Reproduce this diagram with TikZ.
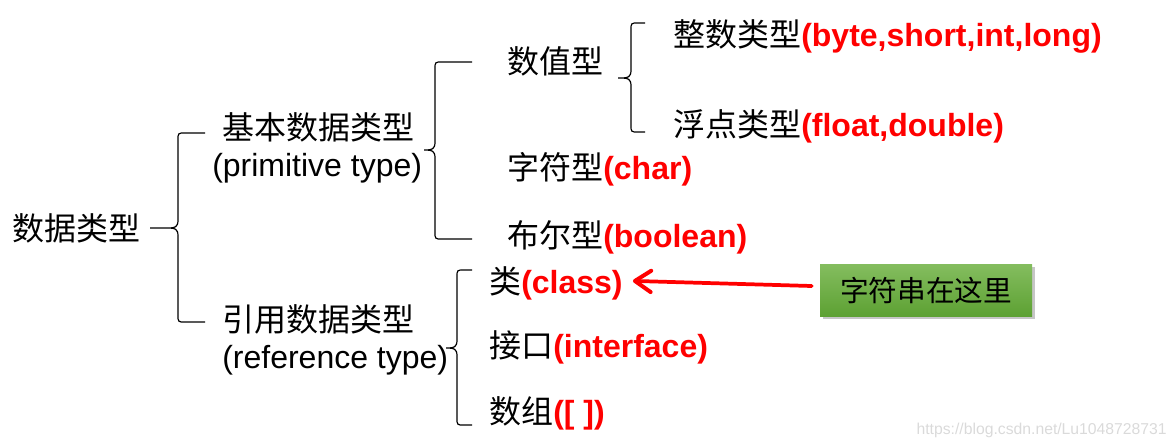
\documentclass[tikz,border=0pt]{standalone}
\usepackage{fontspec}
\setmainfont{Liberation Sans}
\newfontfamily\cjk{Noto Sans CJK SC}
\usetikzlibrary{arrows.meta,shadows}
\definecolor{boxtop}{HTML}{84BD5F}
\definecolor{boxbot}{HTML}{5DA133}
\definecolor{wmgray}{HTML}{DADADA}
\newcommand\zhtxt[1]{{\cjk #1}}
\newcommand\redtxt[1]{{\color{red}\bfseries #1}}
% #1 tipx, #2 tipy, #3 vertical x, #4 end x, #5 top y, #6 bottom y
\newcommand\bracedraw[6]{%
  \draw[bracestyle] (#4,#5) -- ({#3+7},#5) .. controls (#3,#5) .. (#3,{#5+7})
    -- (#3,{#2-8}) .. controls (#3,{#2-1}) and ({#3-3},#2) .. ({#3-9},#2) -- (#1,#2)
    -- ({#3-9},#2) .. controls ({#3-3},#2) and (#3,{#2+1}) .. (#3,{#2+8})
    -- (#3,{#6-7}) .. controls (#3,#6) .. ({#3+7},#6) -- (#4,#6);}
\begin{document}
\begin{tikzpicture}[x=0.75pt,y=-0.75pt,
  lbl/.style={anchor=base west,inner sep=0pt,font=\fontsize{24}{28}\selectfont},
  bracestyle/.style={line width=0.9pt,black},
  gbox/.style={inner sep=0pt,minimum width=159pt,minimum height=39pt,
    top color=boxtop,bottom color=boxbot,
    drop shadow={shadow xshift=2pt,shadow yshift=-2.5pt,opacity=0.45},
    font=\fontsize{21.5}{24}\selectfont},
  redarr/.style={red,line width=2.8pt,line cap=round,
    -{Straight Barb[length=12pt,width=16pt,line width=3pt,round]}},
  wmark/.style={anchor=base east,inner sep=0pt,text=wmgray,font=\fontsize{11.8}{14}\selectfont}]
\useasboundingbox (0,0) rectangle (1176,447);
\node[lbl] (root) at (12,240) {\zhtxt{数据类型}};
\node[lbl] (prim) at (222,139) {\zhtxt{基本数据类型}};
\node[lbl] (primen) at (212,176) {(primitive type)};
\node[lbl] (num) at (507,73) {\zhtxt{数值型}};
\node[lbl] (int) at (673,46) {\zhtxt{整数类型}\redtxt{(byte,short,int,long)}};
\node[lbl] (flt) at (673,136) {\zhtxt{浮点类型}\redtxt{(float,double)}};
\node[lbl] (chr) at (507,179) {\zhtxt{字符型}\redtxt{(char)}};
\node[lbl] (bool) at (507,247) {\zhtxt{布尔型}\redtxt{(boolean)}};
\node[lbl] (ref) at (222,331) {\zhtxt{引用数据类型}};
\node[lbl] (refen) at (222,368) {(reference type)};
\node[lbl] (cls) at (489,293) {\zhtxt{类}\redtxt{(class)}};
\node[lbl] (itf) at (489,357) {\zhtxt{接口}\redtxt{(interface)}};
\node[lbl] (arr) at (489,423) {\zhtxt{数组}\redtxt{([ ])}};
\bracedraw{150}{228}{178}{205}{133}{322}
\bracedraw{424}{150}{435}{472}{62}{239}
\bracedraw{618}{78}{631}{645}{23}{132}
\bracedraw{446}{348}{457}{472}{270}{425}
\node[gbox] (box) at (926,290) {\zhtxt{字符串在这里}};
\draw[redarr] ([xshift=-6pt,yshift=3pt]box.west) -- ([xshift=7.5pt,yshift=1.5pt]cls.east);
\node[wmark] (wm) at (1167,434) {https://blog.csdn.net/Lu1048728731};
\end{tikzpicture}
\end{document}
